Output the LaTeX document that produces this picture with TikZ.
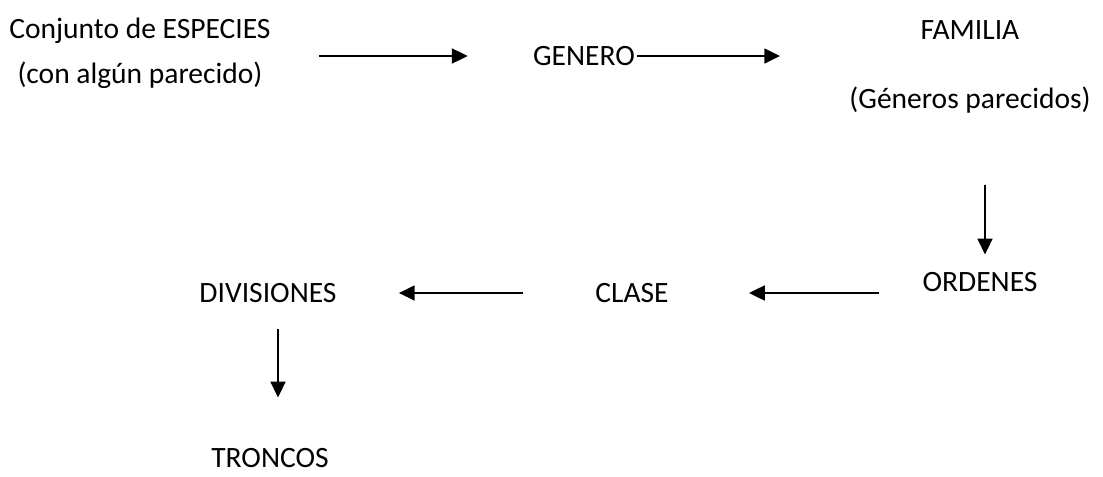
\documentclass[tikz,border=0pt]{standalone}
\usepackage{fontspec}
\setmainfont{Carlito}
\usetikzlibrary{arrows.meta,calc}
\tikzset{
    taxon/.style = {inner sep=0pt, align=center,
        font=\fontsize{16.8}{25.5}\selectfont},
    arrow/.style = {draw, line width=1.1pt, -{Triangle[length=9pt,width=8.5pt]}}
}

\begin{document}
\begin{tikzpicture}
                \useasboundingbox (0,0) rectangle (22.06,-9.52);
                \node[taxon] (especies) at (2.80,-1.06) {Conjunto de ESPECIES\\(con algún parecido)};
                \node[taxon] (genero) at (11.68,-1.12) {GENERO};
                \node[taxon] (familia) at (19.40,-1.34) {FAMILIA\\[14pt](Géneros parecidos)};
                \node[taxon] (ordenes) at (19.60,-5.64) {ORDENES};
                \node[taxon] (clase) at (12.64,-5.86) {CLASE};
                \node[taxon] (divisiones) at (5.36,-5.86) {DIVISIONES};
                \node[taxon] (troncos) at (5.40,-9.17) {TRONCOS};
                \draw [arrow, shorten <=0.96cm, shorten >=1.30cm] (especies.east |- genero) -- (genero.west);
                \draw [arrow, shorten <=0.04cm, shorten >=1.38cm] (genero.east) -- (genero.east -| familia.west);
                \draw [arrow, shorten <=1.42cm, shorten >=0.35cm] ([xshift=0.3cm]familia.south) -- ([xshift=0.1cm]ordenes.north);
                \draw [arrow, shorten <=0.86cm, shorten >=1.60cm] (ordenes.west |- clase) -- (clase.east);
                \draw [arrow, shorten <=1.44cm, shorten >=1.24cm] (clase.west) -- (divisiones.east);
                \draw [arrow, shorten <=0.51cm, shorten >=1.02cm] ([xshift=0.2cm]divisiones.south) -- ([xshift=0.2cm]divisiones.south |- troncos.north);
            \end{tikzpicture}
\end{document}
